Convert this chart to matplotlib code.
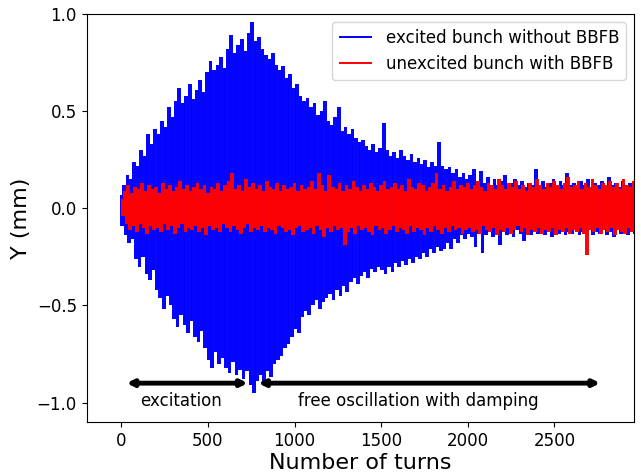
import numpy as np
import matplotlib
matplotlib.use("Agg")
import matplotlib.pyplot as plt

# Peak (upper) values of the excited bunch, at turns 0, 20, 40, ...
blue_peaks = [
    0.07, 0.12, 0.17, 0.15, 0.24, 0.22, 0.30, 0.27, 0.38, 0.33,
    0.41, 0.38, 0.45, 0.42, 0.52, 0.47, 0.55, 0.62, 0.54, 0.58,
    0.64, 0.56, 0.61, 0.66, 0.60, 0.70, 0.76, 0.71, 0.74, 0.78,
    0.72, 0.82, 0.89, 0.80, 0.84, 0.87, 0.81, 0.90, 0.96, 0.86,
    0.88, 0.82, 0.79, 0.77, 0.80, 0.74, 0.71, 0.73, 0.67, 0.69,
    0.62, 0.64, 0.58, 0.55, 0.57, 0.52, 0.54, 0.48, 0.50, 0.55,
    0.45, 0.43, 0.47, 0.52, 0.40, 0.42, 0.38, 0.41, 0.36, 0.34,
    0.35, 0.32, 0.30, 0.33, 0.29, 0.31, 0.44, 0.30, 0.27, 0.29,
    0.26, 0.30, 0.27, 0.25, 0.28, 0.24, 0.26, 0.23, 0.25, 0.21,
    0.24, 0.22, 0.34, 0.22, 0.20, 0.21, 0.18, 0.20, 0.16, 0.18,
    0.15, 0.17, 0.20, 0.14, 0.19, 0.13, 0.16, 0.12, 0.15, 0.12,
    0.14, 0.17, 0.12, 0.13, 0.15, 0.12, 0.14, 0.11, 0.13, 0.12,
    0.20, 0.12, 0.14, 0.11, 0.13, 0.15, 0.11, 0.14, 0.12, 0.18,
    0.12, 0.13, 0.11, 0.14, 0.12, 0.15, 0.11, 0.13, 0.12, 0.14,
    0.11, 0.16, 0.12, 0.13, 0.11, 0.14, 0.12, 0.13, 0.11, 0.12,
]
# Trough (lower) values of the excited bunch, at turns 10, 30, 50, ...
blue_troughs = [
    -0.09, -0.14, -0.18, -0.16, -0.26, -0.30, -0.25, -0.34, -0.37, -0.32,
    -0.42, -0.46, -0.52, -0.45, -0.50, -0.57, -0.61, -0.55, -0.60, -0.64,
    -0.58, -0.66, -0.69, -0.63, -0.72, -0.78, -0.82, -0.74, -0.80, -0.77,
    -0.82, -0.85, -0.79, -0.86, -0.83, -0.88, -0.84, -0.91, -0.95, -0.89,
    -0.86, -0.90, -0.84, -0.87, -0.80, -0.78, -0.76, -0.72, -0.70, -0.66,
    -0.62, -0.64, -0.56, -0.53, -0.55, -0.50, -0.47, -0.52, -0.48, -0.46,
    -0.44, -0.47, -0.42, -0.45, -0.40, -0.43, -0.38, -0.36, -0.39, -0.35,
    -0.33, -0.36, -0.31, -0.33, -0.30, -0.32, -0.34, -0.30, -0.33, -0.28,
    -0.30, -0.27, -0.29, -0.26, -0.28, -0.25, -0.26, -0.23, -0.25, -0.21,
    -0.23, -0.20, -0.22, -0.21, -0.18, -0.21, -0.16, -0.18, -0.14, -0.16,
    -0.13, -0.15, -0.20, -0.13, -0.23, -0.14, -0.12, -0.15, -0.13, -0.19,
    -0.12, -0.14, -0.12, -0.15, -0.11, -0.13, -0.17, -0.12, -0.14, -0.11,
    -0.13, -0.12, -0.14, -0.11, -0.15, -0.12, -0.13, -0.11, -0.14, -0.12,
    -0.13, -0.11, -0.14, -0.12, -0.13, -0.11, -0.14, -0.12, -0.13, -0.11,
    -0.14, -0.12, -0.15, -0.11, -0.13, -0.12, -0.14, -0.11, -0.13, -0.12,
]
# Peak values of the unexcited bunch with BBFB, at turns 5, 25, 45, ...
red_peaks = [
    0.05, 0.09, 0.12, 0.08, 0.11, 0.10, 0.13, 0.09, 0.12, 0.10,
    0.11, 0.08, 0.13, 0.10, 0.12, 0.09, 0.11, 0.14, 0.10, 0.12,
    0.09, 0.11, 0.13, 0.10, 0.12, 0.08, 0.11, 0.10, 0.13, 0.09,
    0.12, 0.14, 0.18, 0.10, 0.12, 0.09, 0.15, 0.11, 0.13, 0.10,
    0.12, 0.09, 0.14, 0.11, 0.10, 0.13, 0.09, 0.12, 0.10, 0.11,
    0.13, 0.09, 0.12, 0.10, 0.11, 0.14, 0.10, 0.18, 0.12, 0.09,
    0.17, 0.11, 0.10, 0.13, 0.09, 0.12, 0.10, 0.14, 0.11, 0.09,
    0.12, 0.10, 0.13, 0.11, 0.09, 0.12, 0.14, 0.10, 0.11, 0.13,
    0.10, 0.12, 0.09, 0.15, 0.11, 0.10, 0.13, 0.12, 0.09, 0.11,
    0.13, 0.18, 0.10, 0.12, 0.09, 0.11, 0.14, 0.10, 0.12, 0.11,
    0.13, 0.10, 0.12, 0.14, 0.11, 0.09, 0.13, 0.12, 0.10, 0.15,
    0.12, 0.10, 0.13, 0.11, 0.14, 0.10, 0.12, 0.09, 0.13, 0.11,
    0.15, 0.12, 0.10, 0.13, 0.11, 0.14, 0.12, 0.10, 0.13, 0.16,
    0.11, 0.12, 0.14, 0.10, 0.13, 0.11, 0.15, 0.12, 0.10, 0.13,
    0.12, 0.14, 0.11, 0.13, 0.10, 0.15, 0.12, 0.11, 0.14, 0.12,
]
# Trough values of the unexcited bunch with BBFB, at turns 15, 35, 55, ...
red_troughs = [
    -0.04, -0.08, -0.11, -0.09, -0.12, -0.08, -0.10, -0.13, -0.09, -0.11,
    -0.10, -0.12, -0.08, -0.11, -0.09, -0.13, -0.10, -0.08, -0.12, -0.10,
    -0.11, -0.09, -0.12, -0.10, -0.14, -0.09, -0.11, -0.10, -0.12, -0.08,
    -0.10, -0.12, -0.09, -0.11, -0.13, -0.10, -0.08, -0.12, -0.10, -0.11,
    -0.09, -0.12, -0.10, -0.11, -0.13, -0.09, -0.10, -0.12, -0.11, -0.14,
    -0.10, -0.09, -0.12, -0.11, -0.10, -0.13, -0.09, -0.11, -0.15, -0.10,
    -0.12, -0.09, -0.11, -0.10, -0.19, -0.12, -0.10, -0.13, -0.09, -0.11,
    -0.10, -0.12, -0.14, -0.09, -0.11, -0.10, -0.13, -0.11, -0.09, -0.12,
    -0.10, -0.11, -0.13, -0.09, -0.12, -0.10, -0.11, -0.14, -0.10, -0.12,
    -0.09, -0.11, -0.13, -0.10, -0.12, -0.09, -0.11, -0.10, -0.13, -0.11,
    -0.10, -0.12, -0.11, -0.13, -0.09, -0.11, -0.12, -0.10, -0.14, -0.11,
    -0.12, -0.10, -0.13, -0.11, -0.09, -0.12, -0.10, -0.14, -0.11, -0.12,
    -0.10, -0.13, -0.11, -0.12, -0.10, -0.14, -0.11, -0.12, -0.10, -0.13,
    -0.11, -0.12, -0.10, -0.13, -0.24, -0.11, -0.12, -0.10, -0.13, -0.11,
    -0.12, -0.10, -0.14, -0.11, -0.12, -0.13, -0.10, -0.12, -0.11, -0.13,
]

turn_step = 20
labels = ["excited bunch without BBFB", "unexcited bunch with BBFB"]
phase_labels = ["excitation", "free oscillation with damping"]
excitation_span = (30, 730)
free_span = (790, 2765)
arrow_y = -0.9
text_y = -0.99


def swing_segments(peaks, troughs, offset):
    """Each consecutive peak/trough pair drawn as one vertical swing."""
    n = len(peaks)
    seq = np.empty(2 * n)
    seq[0::2] = peaks
    seq[1::2] = troughs
    t = np.arange(2 * n) * (turn_step / 2) + offset
    nxt = np.append(seq[1:], seq[-1])
    lo = np.minimum(seq, nxt)
    hi = np.maximum(seq, nxt)
    return t, lo, hi


fig = plt.figure(figsize=(6.41, 4.73), dpi=100)
ax = fig.add_axes([86.7 / 641, 51 / 473, (634 - 86.7) / 641, (422 - 14) / 473])

tb, lob, hib = swing_segments(blue_peaks, blue_troughs, 0)
tr, lor, hir = swing_segments(red_peaks, red_troughs, 5)
ax.vlines(tb, lob, hib, color="blue", lw=1.4, label=labels[0])
ax.vlines(tr, lor, hir, color="red", lw=1.4, label=labels[1])

arrow_kw = dict(arrowstyle="<|-|>", lw=3.5, color="black", mutation_scale=9,
                shrinkA=0, shrinkB=0)
ax.annotate("", xy=(excitation_span[1], arrow_y), xytext=(excitation_span[0], arrow_y),
            arrowprops=arrow_kw)
ax.annotate("", xy=(free_span[1], arrow_y), xytext=(free_span[0], arrow_y),
            arrowprops=arrow_kw)
ax.text(347, text_y, phase_labels[0], ha="center", va="center", fontsize=12)
ax.text(1712, text_y, phase_labels[1], ha="center", va="center", fontsize=12)

ax.set_xlim(-200, 2960)
ax.set_ylim(-1.1, 1.0)
ax.set_xticks([0, 500, 1000, 1500, 2000, 2500])
ax.set_yticks([-1.0, -0.5, 0.0, 0.5, 1.0])
ax.tick_params(labelsize=12)
ax.set_xlabel("Number of turns", fontsize=16, labelpad=2)
ax.set_ylabel("Y (mm)", fontsize=16)
ax.legend(loc="upper right", fontsize=12)

fig.savefig("out.png", dpi=100)
